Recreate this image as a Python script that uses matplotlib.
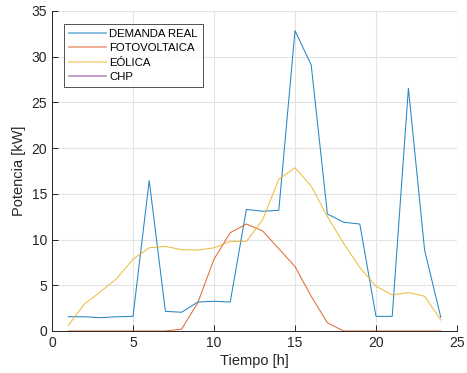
import numpy as np
import matplotlib
matplotlib.use("Agg")
import matplotlib.pyplot as plt

plt.rcParams['font.family'] = ['Liberation Sans', 'DejaVu Sans']

hours = np.arange(1, 25)
demanda_real = [1.56, 1.56, 1.46, 1.56, 1.6, 16.45, 2.15, 2.05, 3.17, 3.25, 3.17, 13.3,
                13.1, 13.2, 32.85, 29.1, 12.8, 11.9, 11.7, 1.6, 1.6, 26.55, 8.85, 1.5]
fotovoltaica = [0, 0, 0, 0, 0, 0, 0, 0.2, 3.1, 7.85, 10.75, 11.7,
                10.95, 9.0, 7.05, 3.8, 0.9, 0, 0, 0, 0, 0, 0, 0]
eolica = [0.6, 2.95, 4.3, 5.75, 7.85, 9.1, 9.25, 8.9, 8.85, 9.1, 9.8, 9.8,
          12.15, 16.6, 17.85, 15.85, 12.5, 9.6, 6.95, 4.9, 3.95, 4.2, 3.8, 1.2]
chp = [np.nan] * 24

series_labels = ['DEMANDA REAL', 'FOTOVOLTAICA', 'EÓLICA', 'CHP']
colors = ['#0072BD', '#D95319', '#EDB120', '#7E2F8E']

fig = plt.figure(figsize=(4.67, 3.73), dpi=100)
ax = fig.add_axes([52/467, 1 - 331/373, (457-52)/467, (331-11)/373])

for vals, lab, col in zip([demanda_real, fotovoltaica, eolica, chp], series_labels, colors):
    ax.plot(hours, vals, color=col, lw=0.75, alpha=0.85, label=lab, clip_on=False)

ax.set_xlim(0, 25)
ax.set_ylim(0, 35)
ax.set_xticks(np.arange(0, 26, 5))
ax.set_yticks(np.arange(0, 36, 5))
ax.grid(True, color='#e3e3e3', lw=0.8)
ax.set_axisbelow(True)
for s in ['top', 'right']:
    ax.spines[s].set_visible(False)
for s in ['left', 'bottom']:
    ax.spines[s].set_color('#262626')
    ax.spines[s].set_linewidth(0.7)
ax.tick_params(direction='in', length=4, width=0.7, colors='#262626',
               labelsize=10, labelcolor='#262626')
ax.set_xlabel('Tiempo [h]', fontsize=10.5, color='#262626', labelpad=3)
ax.set_ylabel('Potencia [kW]', fontsize=10.5, color='#262626')

leg = ax.legend(loc='upper left', bbox_to_anchor=(0.03, 0.96), fontsize=8.2,
                frameon=True, fancybox=False, edgecolor='#262626',
                handlelength=3.2, borderpad=0.45, labelspacing=0.38,
                handletextpad=0.3, borderaxespad=0.0)
leg.get_frame().set_linewidth(0.7)
for h in leg.get_lines():
    h.set_alpha(0.55)
    h.set_linewidth(1.2)

fig.savefig('out.png', dpi=100)
